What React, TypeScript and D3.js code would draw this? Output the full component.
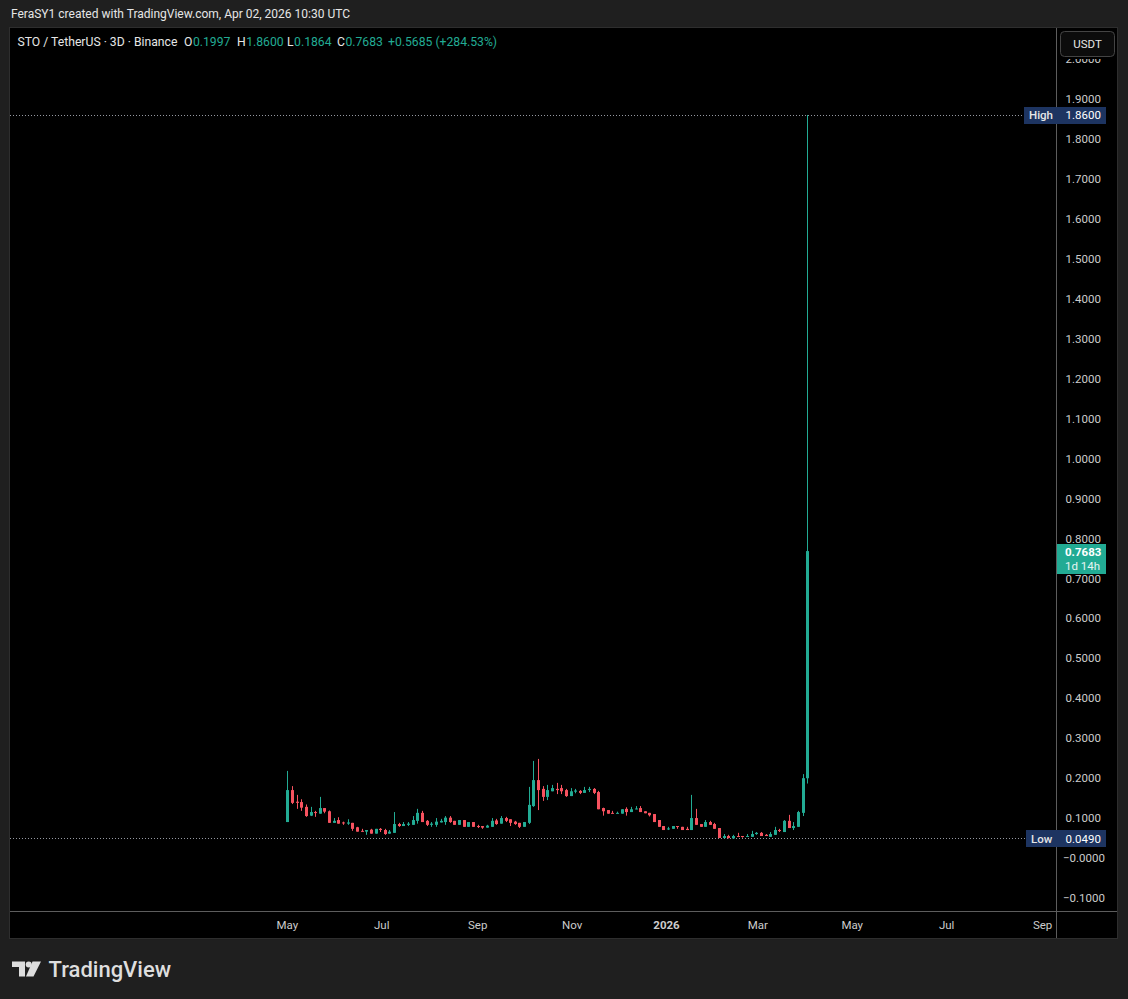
import React from "react";
import * as d3 from "d3";

// ---------- DATA ----------
const firstCandleDate = "2025-04-30";
const candleStepDays = 3;

const opens = [
  0.090, 0.170, 0.141, 0.140, 0.128, 0.106, 0.115, 0.111, 0.125, 0.117,
  0.088, 0.095, 0.089, 0.086, 0.088, 0.077, 0.068, 0.066, 0.071, 0.061,
  0.073, 0.070, 0.061, 0.063, 0.085, 0.080, 0.083, 0.083, 0.093, 0.113,
  0.093, 0.083, 0.083, 0.089, 0.090, 0.101, 0.093, 0.083, 0.095, 0.078,
  0.090, 0.080, 0.080, 0.076, 0.078, 0.094, 0.086, 0.100, 0.097, 0.091,
  0.088, 0.078, 0.088, 0.130, 0.195, 0.173, 0.153, 0.167, 0.173, 0.175,
  0.170, 0.155, 0.166, 0.168, 0.163, 0.170, 0.173, 0.165, 0.125, 0.120,
  0.113, 0.111, 0.111, 0.123, 0.115, 0.122, 0.125, 0.117, 0.113, 0.110,
  0.095, 0.080, 0.072, 0.073, 0.080, 0.078, 0.073, 0.070, 0.100, 0.085,
  0.078, 0.090, 0.085, 0.075, 0.050, 0.055, 0.049, 0.055, 0.055, 0.053,
  0.053, 0.060, 0.063, 0.058, 0.053, 0.058, 0.070, 0.065, 0.093, 0.075,
  0.078, 0.113, 0.1997,
];
const highs = [
  0.218, 0.180, 0.158, 0.147, 0.134, 0.128, 0.118, 0.153, 0.125, 0.119,
  0.100, 0.102, 0.091, 0.097, 0.088, 0.078, 0.073, 0.070, 0.073, 0.073,
  0.075, 0.073, 0.070, 0.115, 0.088, 0.090, 0.090, 0.105, 0.123, 0.118,
  0.095, 0.090, 0.100, 0.098, 0.105, 0.105, 0.093, 0.095, 0.095, 0.090,
  0.090, 0.083, 0.080, 0.083, 0.100, 0.098, 0.105, 0.103, 0.097, 0.093,
  0.088, 0.090, 0.178, 0.243, 0.248, 0.180, 0.183, 0.183, 0.188, 0.183,
  0.173, 0.175, 0.173, 0.170, 0.178, 0.178, 0.175, 0.168, 0.126, 0.120,
  0.118, 0.116, 0.122, 0.127, 0.128, 0.130, 0.130, 0.117, 0.113, 0.110,
  0.095, 0.080, 0.078, 0.080, 0.080, 0.078, 0.078, 0.158, 0.123, 0.085,
  0.095, 0.093, 0.088, 0.075, 0.060, 0.058, 0.058, 0.063, 0.055, 0.060,
  0.068, 0.065, 0.065, 0.060, 0.065, 0.078, 0.073, 0.095, 0.108, 0.090,
  0.118, 0.210, 1.8600,
];
const lows = [
  0.090, 0.135, 0.123, 0.118, 0.103, 0.105, 0.103, 0.111, 0.112, 0.088,
  0.088, 0.086, 0.083, 0.083, 0.068, 0.066, 0.066, 0.058, 0.061, 0.061,
  0.065, 0.058, 0.061, 0.063, 0.078, 0.080, 0.080, 0.083, 0.086, 0.090,
  0.080, 0.078, 0.078, 0.089, 0.083, 0.088, 0.083, 0.083, 0.078, 0.078,
  0.078, 0.075, 0.073, 0.076, 0.078, 0.083, 0.086, 0.090, 0.080, 0.083,
  0.075, 0.078, 0.085, 0.128, 0.120, 0.143, 0.145, 0.167, 0.160, 0.160,
  0.153, 0.155, 0.162, 0.160, 0.163, 0.165, 0.160, 0.122, 0.106, 0.111,
  0.111, 0.111, 0.111, 0.106, 0.115, 0.122, 0.115, 0.112, 0.104, 0.090,
  0.078, 0.070, 0.070, 0.073, 0.073, 0.070, 0.070, 0.070, 0.083, 0.078,
  0.078, 0.083, 0.073, 0.050, 0.049, 0.049, 0.049, 0.053, 0.051, 0.053,
  0.053, 0.058, 0.055, 0.055, 0.053, 0.058, 0.065, 0.065, 0.075, 0.070,
  0.078, 0.105, 0.1864,
];
const closes = [
  0.170, 0.138, 0.138, 0.126, 0.105, 0.115, 0.113, 0.125, 0.116, 0.088,
  0.093, 0.086, 0.087, 0.089, 0.073, 0.066, 0.066, 0.070, 0.061, 0.073,
  0.070, 0.060, 0.066, 0.085, 0.080, 0.085, 0.086, 0.095, 0.113, 0.090,
  0.083, 0.086, 0.091, 0.093, 0.101, 0.090, 0.083, 0.095, 0.078, 0.090,
  0.078, 0.078, 0.076, 0.081, 0.093, 0.085, 0.100, 0.093, 0.088, 0.085,
  0.078, 0.090, 0.133, 0.195, 0.170, 0.153, 0.170, 0.175, 0.170, 0.167,
  0.155, 0.167, 0.169, 0.163, 0.170, 0.173, 0.163, 0.122, 0.117, 0.111,
  0.111, 0.113, 0.122, 0.115, 0.122, 0.124, 0.115, 0.112, 0.107, 0.090,
  0.078, 0.070, 0.074, 0.080, 0.078, 0.070, 0.070, 0.100, 0.083, 0.078,
  0.090, 0.083, 0.073, 0.050, 0.055, 0.050, 0.055, 0.053, 0.053, 0.055,
  0.060, 0.063, 0.055, 0.055, 0.060, 0.070, 0.068, 0.093, 0.075, 0.080,
  0.115, 0.1998, 0.7683,
];

const priceTickValues = [
  -0.1, 0.0, 0.1, 0.2, 0.3, 0.4, 0.5, 0.6, 0.7, 0.8, 0.9, 1.0, 1.1,
  1.2, 1.3, 1.4, 1.5, 1.6, 1.7, 1.8, 1.9, 2.0,
];
const priceTickLabels = [
  "−0.1000", "−0.0000", "0.1000", "0.2000", "0.3000", "0.4000", "0.5000",
  "0.6000", "0.7000", "0.8000", "0.9000", "1.0000", "1.1000", "1.2000",
  "1.3000", "1.4000", "1.5000", "1.6000", "1.7000", "1.8000", "1.9000", "2.0000",
];
const timeTickDates = [
  "2025-05-01", "2025-07-01", "2025-09-01", "2025-11-01", "2026-01-01",
  "2026-03-01", "2026-05-01", "2026-07-01", "2026-09-01",
];
const timeTickLabels = ["May", "Jul", "Sep", "Nov", "2026", "Mar", "May", "Jul", "Sep"];

const headerText = "FeraSY1 created with TradingView.com, Apr 02, 2026 10:30 UTC";
const symbolText = "STO / TetherUS · 3D · Binance";
const legendLabels = ["O", "H", "L", "C"];
const legendValues = ["0.1997", "1.8600", "0.1864", "0.7683"];
const changeText = "+0.5685 (+284.53%)";
const highValue = 1.86;
const highText = "1.8600";
const lowValue = 0.049;
const lowText = "0.0490";
const lastPrice = 0.7683;
const lastPriceText = "0.7683";
const countdownText = "1d 14h";
const currencyText = "USDT";

// ---------- STYLE ----------
const UP = "#22ab94";
const DOWN = "#f7525f";
const FONT = "Roboto, 'Liberation Sans', sans-serif";

export default function App() {
  const W = 1128;
  const H = 999;
  const paneL = 10, paneR = 1117, paneT = 28, paneB = 938;
  const axisX = 1056.5;
  const timeY = 911.5;

  const y = d3.scaleLinear().domain([0, 1.9]).range([858, 99]);
  const start = new Date(firstCandleDate + "T00:00:00Z");
  const dates = opens.map((_, i) => d3.utcDay.offset(start, i * candleStepDays));
  const x = d3
    .scaleUtc()
    .domain([dates[0], dates[dates.length - 1]])
    .range([287.3, 807.3]);

  const legendLabelX = [184, 237, 287, 337];

  const snap = (v: number) => Math.round(v);

  return (
    <svg
      width={W}
      height={H}
      style={{ position: "absolute", left: 0, top: 0, display: "block" }}
      fontFamily={FONT}
    >
      <rect x={0} y={0} width={W} height={H} fill="#1f1f1f" />
      <text x={11} y={18} fill="#e6e6e6" fontSize={12}>
        {headerText}
      </text>

      {/* pane */}
      <rect x={paneL - 0.5} y={paneT - 0.5} width={paneR - paneL + 1} height={paneB - paneT + 1} fill="#000" stroke="#2e2e2e" />

      {/* high / low dotted lines */}
      <line x1={paneL} x2={1024} y1={snap(y(highValue)) + 0.5} y2={snap(y(highValue)) + 0.5} stroke="#9598a1" strokeDasharray="1 2" />
      <line x1={paneL} x2={1026} y1={snap(y(lowValue)) + 0.5} y2={snap(y(lowValue)) + 0.5} stroke="#9598a1" strokeDasharray="1 2" />

      {/* candles */}
      <g>
        {dates.map((d, i) => {
          const o = opens[i], c = closes[i], h = highs[i], l = lows[i];
          const col = c >= o ? UP : DOWN;
          const xc = snap(x(d));
          const top = y(Math.max(o, c));
          const bot = y(Math.min(o, c));
          const bh = Math.max(1, bot - top);
          return (
            <g key={i}>
              <line x1={xc + 0.5} x2={xc + 0.5} y1={y(h)} y2={y(l)} stroke={col} strokeWidth={1} />
              <rect x={xc - 1} y={top} width={3} height={bh} fill={col} />
            </g>
          );
        })}
      </g>

      {/* axis separators */}
      <line x1={axisX} x2={axisX} y1={paneT} y2={paneB} stroke="#5d5d5d" />
      <line x1={paneL} x2={paneR} y1={timeY} y2={timeY} stroke="#5d5d5d" />

      {/* price axis labels */}
      <g fontSize={11.5} fill="#cccccc">
        {priceTickValues.map((v, i) => (
          <text key={i} x={v <= 0 ? 1063 : 1065.5} y={y(v)} dy="0.36em">
            {priceTickLabels[i]}
          </text>
        ))}
      </g>

      {/* USDT button area */}
      <rect x={1057} y={28} width={59} height={31} fill="#000" />
      <rect x={1060.5} y={31.5} width={54} height={25} rx={4} fill="#0c0c0c" stroke="#444" />
      <text x={1087.5} y={44} dy="0.36em" textAnchor="middle" fill="#e6e6e6" fontSize={11.5}>
        {currencyText}
      </text>

      {/* High label */}
      <rect x={1024} y={snap(y(highValue)) - 8} width={82} height={17} fill="#1d3461" />
      <text x={1029} y={y(highValue)} dy="0.36em" fill="#e6e6e6" fontSize={11.5} fontWeight={500}>High</text>
      <text x={1065.5} y={y(highValue)} dy="0.36em" fill="#ffffff" fontSize={11.5}>{highText}</text>

      {/* Low label */}
      <rect x={1026} y={snap(y(lowValue)) - 8} width={80} height={17} fill="#1d3461" />
      <text x={1031} y={y(lowValue)} dy="0.36em" fill="#e6e6e6" fontSize={11.5} fontWeight={500}>Low</text>
      <text x={1065.5} y={y(lowValue)} dy="0.36em" fill="#ffffff" fontSize={11.5}>{lowText}</text>

      {/* last price label */}
      <rect x={1057} y={snap(y(lastPrice)) - 7} width={49} height={30} fill={UP} />
      <text x={1065} y={y(lastPrice) + 1} dy="0.36em" fill="#ffffff" fontSize={11.5} fontWeight={700}>{lastPriceText}</text>
      <text x={1065} y={y(lastPrice) + 15} dy="0.36em" fill="#e6f5f2" fontSize={11.5}>{countdownText}</text>

      {/* time axis labels */}
      <g fontSize={11.5} fill="#cccccc" textAnchor="middle">
        {timeTickDates.map((s, i) => (
          <text
            key={i}
            x={x(new Date(s + "T00:00:00Z")) - 1.5}
            y={925}
            dy="0.36em"
            fontWeight={timeTickLabels[i] === "2026" ? 700 : 400}
          >
            {timeTickLabels[i]}
          </text>
        ))}
      </g>

      {/* legend */}
      <g fontSize={12.2}>
        <text x={17.5} y={42} dy="0.36em" fill="#e6e6e6">{symbolText}</text>
        {legendLabels.map((lab, i) => (
          <text key={i} x={legendLabelX[i]} y={42} dy="0.36em" fill="#e6e6e6">
            {lab}
            <tspan dx={0.5} fill={UP}>{legendValues[i]}</tspan>
          </text>
        ))}
        <text x={388} y={42} dy="0.36em" fill={UP}>{changeText}</text>
      </g>

      {/* TradingView logo */}
      <g fill="#dedede">
        <path d="M12,961.5 H25 V976.5 H19 V967 H12 Z" />
        <circle cx={28.7} cy={964.5} r={3} />
        <path d="M32.5,961.5 H41 L33.5,976.5 H26 Z" />
        <text x={48.5} y={976.5} fontSize={22} fontWeight={500}>TradingView</text>
      </g>
    </svg>
  );
}
